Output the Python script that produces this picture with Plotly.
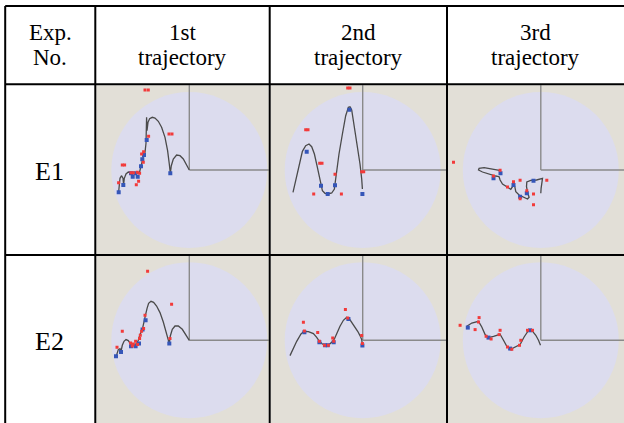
import plotly.graph_objects as go

# ---------------- data (workspace units, mm; circle radius = R_WS) ----------------
R_WS = 78

corner_lines = ["Exp.", "No."]
col_line1 = ["1st", "2nd", "3rd"]
col_line2 = ["trajectory", "trajectory", "trajectory"]
row_labels = ["E1", "E2"]

# E1, 1st trajectory
e1_t1_line_x = [-70.7, -70.3, -69.3, -67.7, -66.3, -65.7, -65.0, -63.3, -61.0, -58.3, -55.0, -51.7, -49.7,
                -48.7, -47.7, -46.0, -44.3, -43.3, -42.7, -42.3, -41.3, -39.7, -37.0, -34.3, -31.0, -27.7,
                -24.3, -21.7, -20.0, -19.0, -18.0, -16.0, -12.7, -9.3, -6.0, -2.7, 0.0]
e1_t1_line_y = [-22.3, -14.0, -8.3, -5.7, -8.3, -14.7, -8.3, -4.0, -2.0, -2.3, -3.0, -3.0, -2.0,
                2.7, 7.7, 13.3, 17.7, 26.7, 52.7, 39.3, 47.7, 51.3, 52.7, 52.0, 48.7, 42.7,
                32.7, 19.3, 6.0, -3.3, 4.3, 11.0, 15.0, 14.3, 11.0, 5.0, 0.0]
e1_t1_blue_x = [-70.6, -66.0, -58.3, -56.6, -54.0, -51.6, -48.3, -47.0, -45.3, -42.6, -19.0]
e1_t1_blue_y = [-22.3, -15.0, -3.3, -6.7, -3.3, -6.7, 3.7, 10.7, 15.0, 30.0, -3.3]
e1_t1_red_x = [-44.3, -41.0, -67.0, -64.7, -20.3, -17.3, -70.7, -58.3, -56.0, -52.0, -49.7, -50.7,
               -53.0, -47.7, -45.7, -46.0, -40.7]
e1_t1_red_y = [80.0, 80.0, 5.0, 5.0, 36.0, 36.0, -12.7, -2.7, -2.7, -2.3, -3.3, -11.3,
               -14.7, 16.0, 18.3, 7.7, 33.7]

# E1, 2nd trajectory
e1_t2_line_x = [-69.7, -67.0, -63.7, -60.3, -57.0, -53.7, -51.0, -48.3, -45.7, -43.7, -42.3, -40.3, -37.7,
                -34.7, -31.0, -28.3, -27.7, -26.3, -23.7, -20.3, -17.0, -14.3, -12.7, -11.0, -8.7, -5.3,
                -2.7, -1.0, -0.3]
e1_t2_line_y = [-22.3, -10.7, 6.0, 18.7, 24.3, 26.0, 23.3, 16.0, 4.3, -5.7, -14.0, -20.7, -23.3,
                -24.0, -23.0, -19.0, -14.0, -2.3, 16.0, 36.0, 54.3, 62.7, 63.3, 60.0, 46.0, 26.0,
                6.0, -9.0, -19.0]
e1_t2_blue_x = [-56.0, -41.7, -35.0, -27.7, -13.3, -0.3]
e1_t2_blue_y = [18.3, -15.7, -24.0, -15.3, 60.3, -24.0]
e1_t2_red_x = [-15.0, -12.7, -57.0, -54.7, -43.0, -40.7, -1.0, 1.0, -27.7, -49.0, -21.3]
e1_t2_red_y = [82.0, 82.0, 40.3, 40.3, 6.7, 6.7, -1.7, -1.7, -4.3, -24.0, -24.0]

# E1, 3rd trajectory
e1_t3_line_x = [-40.0, -48.3, -56.7, -61.7, -62.3, -58.3, -51.7, -45.0, -41.7, -40.7, -38.3, -34.3, -30.0,
                -28.3, -27.3, -26.0, -25.0, -21.7, -17.7, -13.3, -11.7, -13.0, -14.3, -14.0, -10.0, -4.3,
                1.7, 0.7, 0.3, 0.0]
e1_t3_line_y = [-0.7, 1.0, 2.3, 1.7, 0.0, -2.0, -4.3, -6.0, -6.7, -10.0, -14.0, -17.0, -19.3,
                -16.7, -13.3, -16.7, -21.7, -25.0, -27.3, -29.0, -27.3, -23.3, -16.7, -12.0, -10.3, -10.0,
                -8.3, -13.3, -18.3, -23.3]
e1_t3_blue_x = [-40.3, -47.3, -27.3, -20.7, -14.0, -7.3]
e1_t3_blue_y = [-3.3, -8.3, -15.0, -26.7, -23.3, -10.7]
e1_t3_red_x = [-87.3, -40.7, -47.3, -27.3, -20.7, -33.3, -20.7, -14.0, -7.3, -7.3, 6.0]
e1_t3_red_y = [7.7, -0.3, -6.0, -11.7, -10.3, -17.0, -28.7, -20.7, -24.0, -34.7, -10.3]

# E2, 1st trajectory
e2_t1_line_x = [-73.3, -72.3, -71.0, -69.3, -68.3, -67.0, -65.3, -63.3, -61.0, -59.0, -57.7, -55.0, -52.7,
                -51.0, -49.3, -47.0, -45.0, -43.7, -42.3, -40.7, -38.3, -35.7, -32.7, -29.3, -26.0, -22.7,
                -20.0, -19.0, -17.0, -14.3, -11.0, -7.0, -3.3, 0.0]
e2_t1_line_y = [-16.7, -12.7, -9.3, -8.3, -11.0, -5.0, -1.0, 0.7, -0.3, -3.3, -5.7, -4.3, -3.3,
                0.0, 5.7, 10.7, 18.3, 25.7, 31.7, 37.0, 39.0, 38.0, 34.3, 27.7, 18.3, 6.7,
                -3.3, 4.3, 11.0, 14.3, 14.3, 11.0, 5.7, 0.0]
e2_t1_blue_x = [-73.3, -68.3, -58.3, -53.7, -50.3, -46.7, -43.7, -20.0]
e2_t1_blue_y = [-16.0, -11.7, -6.0, -6.0, -3.3, 10.7, 20.0, -3.3]
e2_t1_red_x = [-41.7, -17.7, -67.0, -72.3, -58.7, -56.0, -53.7, -51.7, -49.7, -49.0, -47.7, -45.7,
               -44.3, -19.3, -57.0]
e2_t1_red_y = [69.0, 36.0, 9.0, -7.0, -2.7, -3.7, -1.0, -4.3, 1.7, 5.0, 9.0, 11.7,
               25.0, 1.7, -5.7]

# E2, 2nd trajectory
e2_t2_line_x = [-72.7, -69.3, -66.0, -61.7, -58.7, -54.3, -49.3, -46.0, -43.3, -40.3, -37.0, -33.7, -31.0,
                -28.3, -26.0, -22.7, -19.3, -16.0, -13.7, -11.0, -7.7, -5.0, -2.7, -1.0, -0.3]
e2_t2_line_y = [-15.3, -7.7, -1.0, 6.3, 9.0, 8.7, 6.7, 3.0, -1.0, -3.7, -5.0, -4.3, -2.0,
                1.3, 7.3, 14.0, 20.0, 23.0, 22.0, 18.3, 13.3, 9.0, 4.7, 0.7, -4.3]
e2_t2_blue_x = [-58.3, -43.3, -37.7, -35.0, -29.0, -14.3, -0.3]
e2_t2_blue_y = [8.0, -2.0, -5.0, -5.0, -2.0, 21.3, -5.3]
e2_t2_red_x = [-59.3, -58.3, -45.0, -43.3, -38.3, -34.3, -30.0, -29.0, -17.3, -15.0, -1.0, -0.3]
e2_t2_red_y = [18.0, 9.3, 7.7, -1.0, -5.0, -5.0, 2.3, -1.0, 30.7, 22.3, 4.7, -3.3]

# E2, 3rd trajectory
e2_t3_line_x = [-74.0, -69.0, -62.3, -59.0, -55.7, -52.3, -47.3, -40.7, -37.3, -34.0, -29.7, -25.0, -20.7,
                -16.7, -12.3, -9.0, -5.0, -2.3, -0.3]
e2_t3_line_y = [14.0, 17.3, 19.0, 13.3, 5.7, 2.7, 4.0, 6.0, 0.0, -6.0, -8.7, -6.7, -4.3,
                3.3, 10.0, 10.0, 5.0, 0.0, -5.0]
e2_t3_blue_x = [-73.0, -52.3, -30.7, -10.7]
e2_t3_blue_y = [12.7, 2.7, -8.3, 10.0]
e2_t3_red_x = [-80.7, -65.7, -61.7, -62.3, -54.7, -49.7, -40.7, -41.7, -33.3, -29.0, -21.3, -20.0,
               -13.3, -8.3]
e2_t3_red_y = [15.0, 10.7, 22.7, 18.3, 4.0, 1.3, 10.0, 5.7, -6.7, -9.0, -5.0, 0.0,
               10.0, 10.0]

cells = [
    [(e1_t1_line_x, e1_t1_line_y, e1_t1_blue_x, e1_t1_blue_y, e1_t1_red_x, e1_t1_red_y),
     (e1_t2_line_x, e1_t2_line_y, e1_t2_blue_x, e1_t2_blue_y, e1_t2_red_x, e1_t2_red_y),
     (e1_t3_line_x, e1_t3_line_y, e1_t3_blue_x, e1_t3_blue_y, e1_t3_red_x, e1_t3_red_y)],
    [(e2_t1_line_x, e2_t1_line_y, e2_t1_blue_x, e2_t1_blue_y, e2_t1_red_x, e2_t1_red_y),
     (e2_t2_line_x, e2_t2_line_y, e2_t2_blue_x, e2_t2_blue_y, e2_t2_red_x, e2_t2_red_y),
     (e2_t3_line_x, e2_t3_line_y, e2_t3_blue_x, e2_t3_blue_y, e2_t3_red_x, e2_t3_red_y)],
]

# ---------------- layout (pixels) ----------------
W, H = 624, 423
V_LINES = [5.2, 95.3, 269.7, 447.0]
H_LINES = [6.0, 84.3, 255.0]
COL_SPANS = [(96.3, 268.7), (270.7, 446.0), (448.0, 624.0)]
ROW_SPANS = [(85.3, 254.0), (256.0, 423.0)]
COL_CX = [189.3, 362.7, 540.8]
ROW_CY = [170.0, 340.3]
PX_PER_UNIT = 1.0

BEIGE = "#e2dfd7"
LAVENDER = "#dcdcee"
AXIS_GRAY = "#8a8a8a"
LINE_COL = "#4a4a4a"
BLUE = "#3556b8"
RED = "#f23a3a"
SERIF = "'Times New Roman', 'Liberation Serif', 'DejaVu Serif', 'Noto Serif', serif"

fig = go.Figure()
shapes = []
k = 0
for r in range(2):
    for c in range(3):
        k += 1
        xa = "x" if k == 1 else f"x{k}"
        ya = "y" if k == 1 else f"y{k}"
        x0, x1 = COL_SPANS[c]
        y0, y1 = ROW_SPANS[r]
        cx, cy = COL_CX[c], ROW_CY[r]
        lx, ly, bx, by, rx, ry = cells[r][c]
        fig.add_trace(go.Scatter(x=lx, y=ly, mode="lines", xaxis=xa, yaxis=ya,
                                 line=dict(color=LINE_COL, width=1.3), hoverinfo="skip", showlegend=False))
        fig.add_trace(go.Scatter(x=bx, y=by, mode="markers", xaxis=xa, yaxis=ya,
                                 marker=dict(symbol="square", size=4, color=BLUE, line=dict(width=0)),
                                 hoverinfo="skip", showlegend=False))
        fig.add_trace(go.Scatter(x=rx, y=ry, mode="markers", xaxis=xa, yaxis=ya,
                                 marker=dict(symbol="square", size=3, color=RED, line=dict(width=0)),
                                 hoverinfo="skip", showlegend=False))
        axname = "xaxis" if k == 1 else f"xaxis{k}"
        ayname = "yaxis" if k == 1 else f"yaxis{k}"
        fig.layout[axname] = dict(domain=[x0 / W, x1 / W],
                                  range=[(x0 - cx) / PX_PER_UNIT, (x1 - cx) / PX_PER_UNIT],
                                  visible=False, fixedrange=True, anchor=ya)
        fig.layout[ayname] = dict(domain=[1 - y1 / H, 1 - y0 / H],
                                  range=[(cy - y1) / PX_PER_UNIT, (cy - y0) / PX_PER_UNIT],
                                  visible=False, fixedrange=True, anchor=xa)
        shapes.append(dict(type="circle", xref=xa, yref=ya, x0=-R_WS, x1=R_WS, y0=-R_WS, y1=R_WS,
                           fillcolor=LAVENDER, line=dict(width=0), layer="below"))
        shapes.append(dict(type="line", xref=xa, yref=ya, x0=0, y0=0, x1=0, y1=300,
                           line=dict(color=AXIS_GRAY, width=1.4), layer="below"))
        shapes.append(dict(type="line", xref=xa, yref=ya, x0=0, y0=0, x1=300, y1=0,
                           line=dict(color=AXIS_GRAY, width=1.4), layer="below"))

# table grid lines
for vx in V_LINES:
    shapes.append(dict(type="line", xref="paper", yref="paper", x0=vx / W, x1=vx / W,
                       y0=1 - H_LINES[0] / H, y1=0, line=dict(color="black", width=2), layer="above"))
for hy in H_LINES:
    shapes.append(dict(type="line", xref="paper", yref="paper", x0=V_LINES[0] / W, x1=1,
                       y0=1 - hy / H, y1=1 - hy / H, line=dict(color="black", width=2), layer="above"))

annotations = []
HEAD_SIZE = 23
col_centers = [50.0] + [(V_LINES[i] + (V_LINES[i + 1] if i + 1 < len(V_LINES) else W)) / 2 for i in range(1, 4)]
line1 = [corner_lines[0]] + col_line1
line2 = [corner_lines[1]] + col_line2
for i in range(4):
    annotations.append(dict(x=col_centers[i] / W, y=1 - 32 / H, xref="paper", yref="paper",
                            text=line1[i], showarrow=False, xanchor="center", yanchor="middle",
                            font=dict(family=SERIF, size=HEAD_SIZE, color="black")))
    annotations.append(dict(x=col_centers[i] / W, y=1 - 58 / H, xref="paper", yref="paper",
                            text=line2[i], showarrow=False, xanchor="center", yanchor="middle",
                            font=dict(family=SERIF, size=HEAD_SIZE, color="black")))
for r in range(2):
    annotations.append(dict(x=49 / W, y=1 - (ROW_CY[r] + 1) / H, xref="paper", yref="paper",
                            text=row_labels[r], showarrow=False, xanchor="center", yanchor="middle",
                            font=dict(family=SERIF, size=26, color="black")))

fig.update_layout(width=W, height=H, margin=dict(l=0, r=0, t=0, b=0, pad=0),
                  paper_bgcolor="white", plot_bgcolor=BEIGE, font=dict(family=SERIF),
                  shapes=shapes, annotations=annotations, showlegend=False)

fig.write_html("out.html", config={"displayModeBar": False},
               post_script="document.body.style.margin='0';document.body.style.overflow='hidden';")
